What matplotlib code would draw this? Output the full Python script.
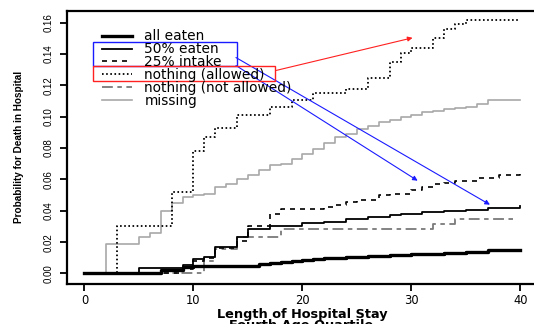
import matplotlib
matplotlib.use("Agg")
import matplotlib.pyplot as plt
from matplotlib.patches import Rectangle

# ---- data ----
labels = ["all eaten", "50% eaten", "25% intake", "nothing (allowed)",
          "nothing (not allowed)", "missing"]

all_eaten_x = [0, 7, 9, 10, 16, 17, 18, 19, 20, 21, 22, 24, 26, 28, 30, 33, 35, 37, 40]
all_eaten_y = [0, 0.002, 0.004, 0.005, 0.006, 0.007, 0.0075, 0.008, 0.0088, 0.0095,
               0.010, 0.0105, 0.011, 0.012, 0.0125, 0.013, 0.014, 0.015, 0.015]

fifty_x = [0, 5, 9, 10, 11, 12, 14, 15, 17, 18, 20, 22, 24, 26, 28, 29, 31, 33, 35,
           37, 39, 40]
fifty_y = [0, 0.0035, 0.0055, 0.009, 0.0102, 0.0166, 0.023, 0.0284, 0.0300, 0.0305,
           0.032, 0.033, 0.035, 0.036, 0.037, 0.038, 0.039, 0.040, 0.0405, 0.0415,
           0.042, 0.043]

quarter_x = [0, 9, 10, 11, 12, 14, 15, 17, 18, 22, 23, 24, 25, 27, 28, 30, 31, 32,
             33, 34, 36, 38, 40]
quarter_y = [0, 0.003, 0.008, 0.010, 0.016, 0.021, 0.030, 0.038, 0.041, 0.0425,
             0.044, 0.0455, 0.047, 0.050, 0.051, 0.053, 0.055, 0.057, 0.058, 0.059,
             0.061, 0.063, 0.064]

allowed_x = [0, 3, 8, 10, 11, 12, 14, 17, 19, 21, 24, 26, 28, 29, 30, 32, 33, 34,
             35, 40]
allowed_y = [0, 0.030, 0.052, 0.078, 0.087, 0.093, 0.101, 0.106, 0.111, 0.115,
             0.118, 0.125, 0.135, 0.141, 0.144, 0.150, 0.156, 0.159, 0.162, 0.162]

not_allowed_x = [0, 11, 12, 14, 18, 32, 34, 39.5]
not_allowed_y = [0, 0.008, 0.0156, 0.023, 0.0284, 0.0316, 0.0348, 0.0348]

missing_x = [0, 2, 5, 6, 7, 8, 9, 10, 11, 12, 13, 14, 15, 16, 17, 18, 19, 20, 21,
             22, 23, 24, 25, 26, 27, 28, 29, 30, 31, 32, 33, 34, 35, 36, 37, 40]
missing_y = [0, 0.019, 0.023, 0.026, 0.040, 0.045, 0.049, 0.050, 0.051, 0.055,
             0.057, 0.060, 0.063, 0.066, 0.069, 0.070, 0.073, 0.076, 0.0795, 0.083,
             0.087, 0.089, 0.092, 0.094, 0.0965, 0.098, 0.100, 0.101, 0.103, 0.104,
             0.105, 0.1055, 0.106, 0.108, 0.111, 0.111]

x_ticks = [0, 10, 20, 30, 40]
y_ticks = [0.00, 0.02, 0.04, 0.06, 0.08, 0.10, 0.12, 0.14, 0.16]

# ---- figure ----
fig = plt.figure(figsize=(5.34, 3.24), dpi=100)
ax = fig.add_axes([0.1255, 0.125, 0.8818, 0.841])

styles = [
    dict(color="black", lw=2.4, ls="-"),
    dict(color="black", lw=1.3, ls="-"),
    dict(color="black", lw=1.2, ls=(0, (3, 3))),
    dict(color="black", lw=1.3, ls=(0, (0.9, 1.4))),
    dict(color="#7a7a7a", lw=1.3, ls=(0, (6, 2.5, 2.5, 2.5))),
    dict(color="#a8a8a8", lw=1.2, ls="-"),
]
series = [(all_eaten_x, all_eaten_y), (fifty_x, fifty_y), (quarter_x, quarter_y),
          (allowed_x, allowed_y), (not_allowed_x, not_allowed_y),
          (missing_x, missing_y)]

order = [5, 4, 3, 2, 1, 0]
handles = {}
for i in order:
    xs, ys = series[i]
    h, = ax.step(xs, ys, where="post", label=labels[i], **styles[i])
    handles[i] = h

ax.set_xlim(-1.6, 41.6)
ax.set_ylim(-0.0064, 0.1675)
ax.set_xticks(x_ticks)
ax.set_yticks(y_ticks)
ax.set_xticklabels([str(v) for v in x_ticks], fontsize=8.3, family="DejaVu Sans")
ax.set_yticklabels([f"{v:.2f}" for v in y_ticks], fontsize=7,
                   family="Liberation Sans", rotation=90, va="center")

for s in ["left", "top", "bottom"]:
    ax.spines[s].set_linewidth(1.6)
ax.spines["right"].set_visible(False)
ax.tick_params(axis="both", direction="out", length=5, width=1.3, color="black")
ax.tick_params(axis="x", pad=2.5)
ax.tick_params(axis="y", pad=5)

ax.set_ylabel("Probability for Death in Hospital", fontsize=7.2,
              family="Liberation Sans", fontweight="bold", labelpad=14)
ax.set_xlabel("Length of Hospital Stay", fontsize=9.3, family="DejaVu Sans",
              fontweight="bold", labelpad=0.8)
fig.text(0.5 * (214 + 388) / 534, 1 - 319.5 / 324, "Fourth Age Quartile",
         ha="center", va="top", fontsize=9.3, fontweight="bold",
         family="DejaVu Sans")

leg = ax.legend([handles[i] for i in range(6)], labels, loc="upper left",
                bbox_to_anchor=(101.7 / 534, 1 - 29.5 / 324),
                bbox_transform=fig.transFigure, frameon=False,
                prop=dict(family="DejaVu Sans", size=9.9),
                handlelength=2.2, handletextpad=0.9, labelspacing=-0.08,
                borderpad=0, borderaxespad=0)

# ---- annotations (boxes and arrows) ----
blue = "#1a1aff"
red = "#ff2020"
ax.add_patch(Rectangle((0.75, 0.1327), 13.25, 0.0150, fill=False, ec=blue,
                       lw=1.0, clip_on=False, zorder=5))
ax.add_patch(Rectangle((0.75, 0.1231), 16.73, 0.0096, fill=False, ec=red,
                       lw=1.0, clip_on=False, zorder=5))
ax.annotate("", xy=(30.1, 0.1504), xytext=(17.6, 0.1296),
            arrowprops=dict(arrowstyle="-|>", color=red, lw=0.8,
                            mutation_scale=7, shrinkA=0, shrinkB=0))
ax.annotate("", xy=(30.57, 0.0592), xytext=(13.9, 0.1327),
            arrowprops=dict(arrowstyle="-|>", color=blue, lw=0.8,
                            mutation_scale=7, shrinkA=0, shrinkB=0))
ax.annotate("", xy=(37.2, 0.0439), xytext=(13.9, 0.1378),
            arrowprops=dict(arrowstyle="-|>", color=blue, lw=0.8,
                            mutation_scale=7, shrinkA=0, shrinkB=0))

fig.savefig("out.png", dpi=100)
